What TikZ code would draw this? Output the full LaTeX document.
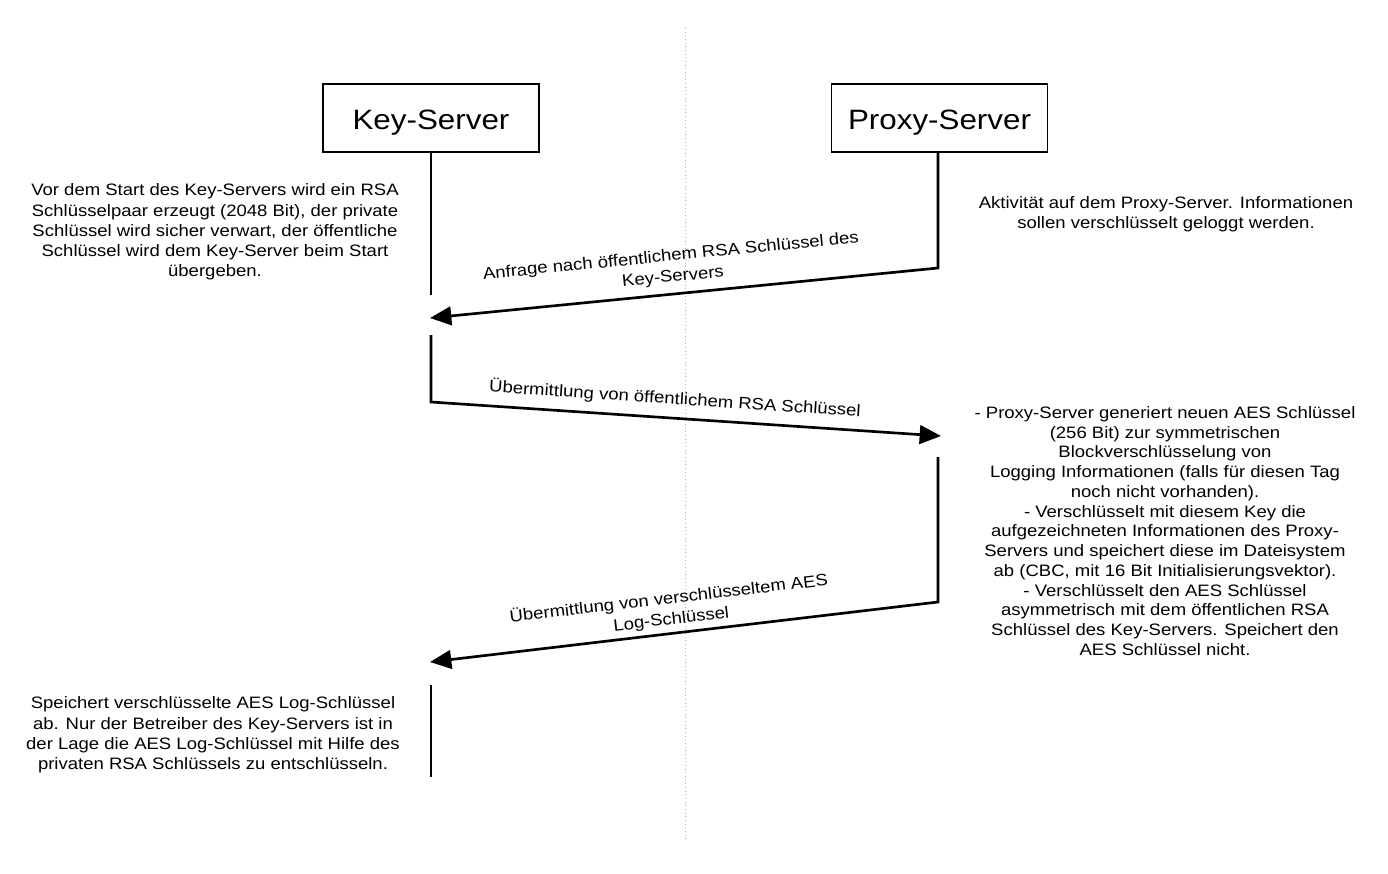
\documentclass[tikz,border=0pt]{standalone}
\usepackage{fontspec}
\setmainfont{Liberation Sans}[FakeStretch=1.12]
\usetikzlibrary{arrows.meta}
\begin{document}
\begin{tikzpicture}[x=0.75pt,y=-0.75pt,
  server/.style={draw,line width=1.1pt,minimum width=162pt,minimum height=51pt,
    inner sep=0pt,text height=20pt,text depth=3.4pt,font=\fontsize{21}{25}\selectfont},
  note/.style={align=center,inner sep=0pt,font=\fontsize{12.4}{15.2}\selectfont},
  longnote/.style={note,font=\fontsize{12.4}{14.8}\selectfont},
  msglabel/.style={align=center,inner sep=0pt,font=\fontsize{12.4}{15.6}\selectfont},
  lifeline/.style={line width=2pt},
  msg/.style={line width=2pt,-{Triangle[length=16pt,width=14pt]}},
  divider/.style={gray!60,dotted,line width=0.75pt}]
\useasboundingbox (0,0) rectangle (1388,874);

% vertical divider between the two sides
\coordinate (dtop) at (685,28);
\coordinate (dbot) at (685,840);
\draw[divider] (dtop) -- (dbot);

% participants
\node[server] (ks) at (431,118) {Key-Server};
\node[server] (ps) at (939.5,118) {Proxy-Server};

% lifeline break points
\coordinate (k1) at (431,295);
\coordinate (k2) at (431,335);
\coordinate (k3) at (431,402);
\coordinate (k4) at (430,318);
\coordinate (k5) at (430,662);
\coordinate (k6) at (431,685);
\coordinate (k7) at (431,777);
\coordinate (p1) at (938,268);
\coordinate (p2) at (941,436);
\coordinate (p3) at (938,457);
\coordinate (p4) at (938,602);

% lifelines
\draw[lifeline] (ks.south) -- (k1);
\draw[lifeline] (k6) -- (k7);

% messages
\draw[msg] (ps.south -| p1) -- (p1) -- (k4);
\draw[msg] (k2) -- (k3) -- (p2);
\draw[msg] (p3) -- (p4) -- (k5);

% message labels
\node[msglabel,rotate=5.6] (m1) at (672,267)
  {Anfrage nach öffentlichem RSA Schlüssel des\\Key-Servers};
\node[msglabel,rotate=-3.8] (m2) at (675,399)
  {Übermittlung von öffentlichem RSA Schlüssel};
\node[msglabel,rotate=6.7] (m3) at (670,609)
  {Übermittlung von verschlüsseltem AES\\Log-Schlüssel};

% notes
\node[note] (n1) at (215,232)
  {Vor dem Start des Key-Servers wird ein RSA\\
   Schlüsselpaar erzeugt (2048 Bit), der private\\
   Schlüssel wird sicher verwart, der öffentliche\\
   Schlüssel wird dem Key-Server beim Start\\
   übergeben.};
\node[note] (n2) at (1166,214)
  {Aktivität auf dem Proxy-Server. Informationen\\
   sollen verschlüsselt geloggt werden.};
\node[longnote] (n3) at (1165,531)
  {- Proxy-Server generiert neuen AES Schlüssel\\
   (256 Bit) zur symmetrischen\\
   Blockverschlüsselung von\\
   Logging Informationen (falls für diesen Tag\\
   noch nicht vorhanden).\\
   - Verschlüsselt mit diesem Key die\\
   aufgezeichneten Informationen des Proxy-\\
   Servers und speichert diese im Dateisystem\\
   ab (CBC, mit 16 Bit Initialisierungsvektor).\\
   - Verschlüsselt den AES Schlüssel\\
   asymmetrisch mit dem öffentlichen RSA\\
   Schlüssel des Key-Servers. Speichert den\\
   AES Schlüssel nicht.};
\node[note] (n4) at (213,735)
  {Speichert verschlüsselte AES Log-Schlüssel\\
   ab. Nur der Betreiber des Key-Servers ist in\\
   der Lage die AES Log-Schlüssel mit Hilfe des\\
   privaten RSA Schlüssels zu entschlüsseln.};
\end{tikzpicture}
\end{document}
